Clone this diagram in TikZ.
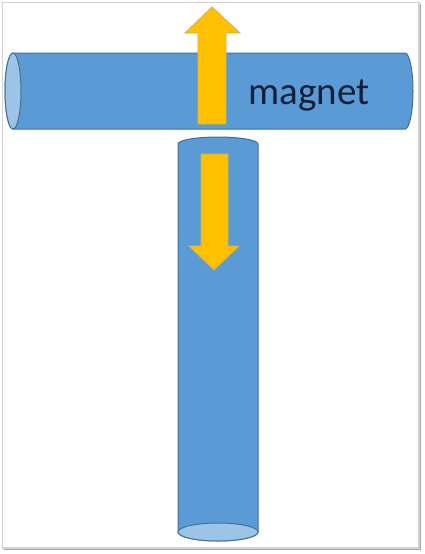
\documentclass[tikz,border=0pt]{standalone}
\usepackage{fontspec}
\newfontfamily\carlito{Carlito}
\definecolor{cylblue}{HTML}{5B9BD5}
\definecolor{cylline}{HTML}{41719C}
\definecolor{cyllight}{HTML}{9DC3E6}
\definecolor{arrfill}{HTML}{FFC000}
\definecolor{arrline}{HTML}{BF9000}
\definecolor{txtcol}{HTML}{14203A}
\begin{document}
\begin{tikzpicture}[x=1pt,y=-1pt,
  cyl/.style={fill=cylblue,draw=cylline,line width=1pt},
  cylend/.style={fill=cyllight,draw=cylline,line width=1pt},
  arr/.style={fill=arrfill,draw=arrline!70,line width=0.8pt,line join=miter}]
\useasboundingbox (0,0) rectangle (424,554);
\fill[white] (0,0) rectangle (424,554);
% frame
\draw[gray!35,line width=1.2pt] (2.5,2.5) rectangle (419,548);
\draw[gray!70,line width=1.5pt] (420.5,4) -- (420.5,549.5) -- (4,549.5);
% horizontal cylinder
\draw[cyl] (13,53) -- (405,53) arc[start angle=-90,end angle=90,x radius=8,y radius=38] -- (13,129) arc[start angle=90,end angle=270,x radius=8,y radius=38] -- cycle;
\draw[cylend] (13,91) ellipse[x radius=8,y radius=38];
% up arrow
\draw[arr] (198,124) -- (198,33) -- (185,33) -- (212,7) -- (240,33) -- (226,33) -- (226,124) -- cycle;
\node[font=\carlito\fontsize{39}{42}\selectfont,text=txtcol,anchor=base] (magnet) at (309,104) {magnet};
% vertical cylinder
\draw[cyl] (178,532) -- (178,144) arc[start angle=180,end angle=360,x radius=40,y radius=7] -- (258,532) arc[start angle=0,end angle=180,x radius=40,y radius=9] -- cycle;
\draw[cylend] (218,532) ellipse[x radius=40,y radius=9];
% down arrow
\draw[arr] (201,154) -- (228,154) -- (228,246) -- (239,246) -- (214,270) -- (189,246) -- (201,246) -- cycle;
\end{tikzpicture}
\end{document}
